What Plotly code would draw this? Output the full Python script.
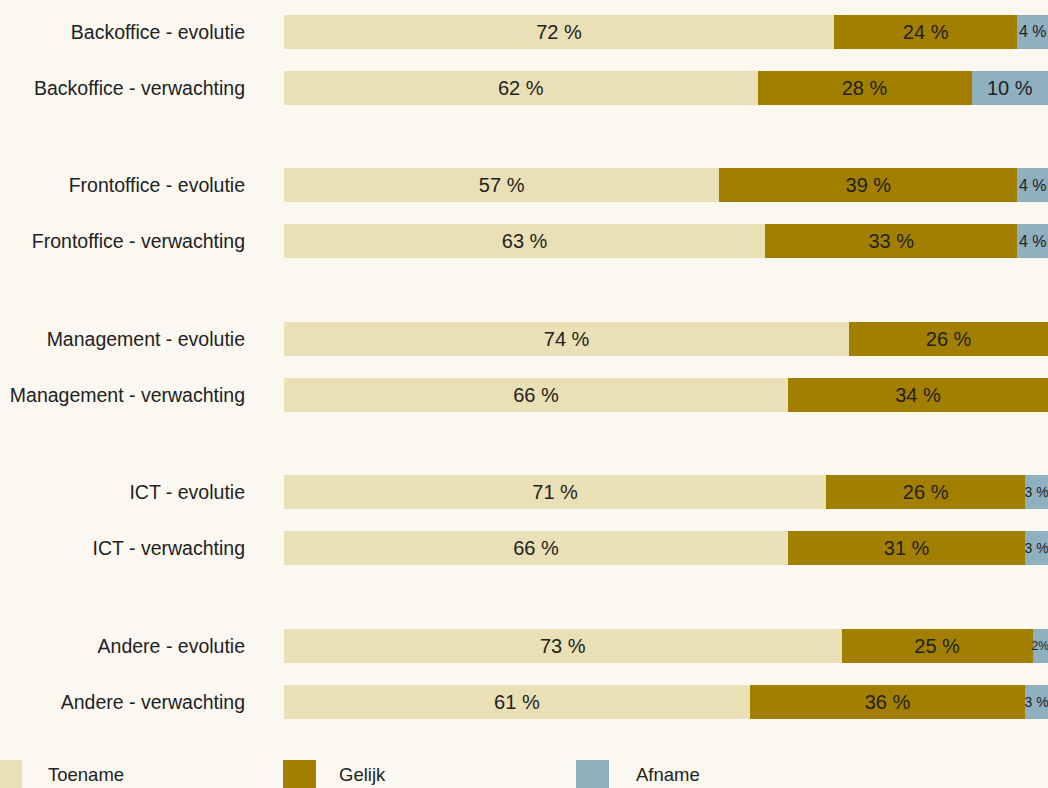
import plotly.graph_objects as go

categories = ["Backoffice - evolutie", "Backoffice - verwachting",
              "Frontoffice - evolutie", "Frontoffice - verwachting",
              "Management - evolutie", "Management - verwachting",
              "ICT - evolutie", "ICT - verwachting",
              "Andere - evolutie", "Andere - verwachting"]
toename = [72, 62, 57, 63, 74, 66, 71, 66, 73, 61]
gelijk = [24, 28, 39, 33, 26, 34, 26, 31, 25, 36]
afname = [4, 10, 4, 4, 0, 0, 3, 3, 2, 3]
series_names = ["Toename", "Gelijk", "Afname"]
colors = ["#EAE0B6", "#A37F00", "#8FB0BF"]

W, H = 1048, 788
ML, MB = 284, 48
FONT = "Liberation Sans, Arial, sans-serif"
TXT = "#222222"

# y positions: pairs with a gap between groups
ypos = [0.571 + (i // 2) * 2.74 + (i % 2) for i in range(len(categories))]


def label(v):
    if v <= 0:
        return ""
    return f"{v}%" if v <= 2 else f"{v} %"


def label_size(v):
    # narrow segments get a smaller label so it stays inside the bar
    if v >= 5:
        return 20
    if v >= 4:
        return 16
    if v >= 3:
        return 14
    return 12


fig = go.Figure()
for name, vals, col in zip(series_names, [toename, gelijk, afname], colors):
    fig.add_trace(go.Bar(
        y=ypos, x=vals, orientation="h", name=name,
        marker=dict(color=col, line=dict(width=0)),
        width=0.607,
        text=[label(v) for v in vals],
        textposition="inside", insidetextanchor="middle",
        constraintext="none", textangle=0,
        textfont=dict(family=FONT, size=[label_size(v) for v in vals], color=TXT),
        showlegend=False,
        hoverinfo="x+name",
    ))

fig.update_layout(
    barmode="stack",
    width=W, height=H,
    margin=dict(l=ML, r=0, t=0, b=MB, pad=0),
    paper_bgcolor="#FBF8F1", plot_bgcolor="#FBF8F1",
    xaxis=dict(range=[0, 100], visible=False, fixedrange=True),
    yaxis=dict(range=[(H - MB) / 56, 0], tickvals=ypos, ticktext=categories,
               showgrid=False, zeroline=False, showline=False, ticks="",
               ticklabelstandoff=38,
               tickfont=dict(family=FONT, size=19.5, color=TXT)),
    font=dict(family=FONT, color=TXT),
)

# custom legend with large swatches
pw = W - ML
ph = H - MB


def px_x(x):
    return (x - ML) / pw


def px_y(y):
    return (ph - y) / ph


legend_items = [(-12, 22, 46), (283, 316, 337), (576, 609, 634)]
for (x0, x1, tx), name, col in zip(legend_items, series_names, colors):
    fig.add_shape(type="rect", xref="paper", yref="paper",
                  x0=px_x(x0), x1=px_x(x1), y0=px_y(792), y1=px_y(760),
                  fillcolor=col, line=dict(width=0))
    fig.add_annotation(xref="paper", yref="paper", x=px_x(tx), y=px_y(774),
                       text=name, showarrow=False, xanchor="left", yanchor="middle",
                       font=dict(family=FONT, size=18.5, color=TXT))

fig.write_html("out.html")
